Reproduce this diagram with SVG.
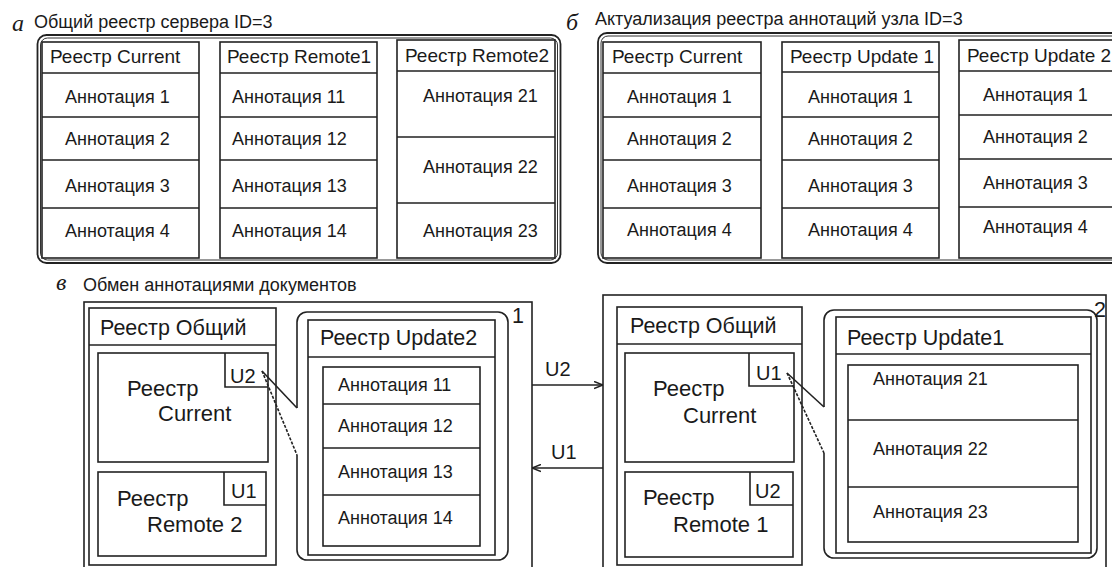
<svg xmlns="http://www.w3.org/2000/svg" width="1112" height="567" viewBox="0 0 1112 567">
<style>
.bx{fill:#fff;stroke:#222;stroke-width:1.6}
.ln{fill:none;stroke:#222;stroke-width:1.6}
.fr{fill:none;stroke:#222;stroke-width:1.8}
.fi{fill:none;stroke:#333;stroke-width:1}
.t{font-family:"Liberation Sans",Arial,sans-serif;fill:#1a1a1a}
.ti{font-size:18px}
.hd{font-size:19px}
.an{font-size:18px}
.bh{font-size:21.5px}
.in{font-size:22px}
.u{font-size:20px}
.lt{font-family:"Liberation Serif","Times New Roman",serif;font-style:italic;font-size:24px;fill:#1a1a1a}
</style>
<defs>
<marker id="arr" viewBox="0 0 10 10" refX="10" refY="5" markerWidth="9" markerHeight="9" markerUnits="userSpaceOnUse" orient="auto">
<path d="M0,1 L10,5 L0,9" fill="none" stroke="#222" stroke-width="1.6"/>
</marker>
</defs>
<rect width="1112" height="567" fill="#fff"/>

<!-- Panel a -->
<g id="panel-a">
<text class="lt" x="12" y="31">а</text>
<text class="t ti" x="34" y="28">Общий реестр сервера ID=3</text>
<rect class="fr" x="37.5" y="35" width="523" height="228" rx="9"/>
<rect class="fi" x="40.5" y="38" width="517" height="222" rx="7"/>
</g>
<g id="a-current">
<rect class="bx" x="42" y="42" width="157" height="216"/>
<path class="ln" d="M42,73H199M42,117H199M42,160H199M42,208H199"/>
<text class="t hd" x="50" y="63">Реестр Current</text>
<text class="t an" x="65" y="103">Аннотация 1</text>
<text class="t an" x="65" y="145">Аннотация 2</text>
<text class="t an" x="65" y="192">Аннотация 3</text>
<text class="t an" x="65" y="237">Аннотация 4</text>
</g>
<g id="a-remote1">
<rect class="bx" x="220" y="42" width="157" height="216"/>
<path class="ln" d="M220,73H377M220,117H377M220,160H377M220,208H377"/>
<text class="t hd" x="227" y="63">Реестр Remote1</text>
<text class="t an" x="232" y="103">Аннотация 11</text>
<text class="t an" x="232" y="145">Аннотация 12</text>
<text class="t an" x="232" y="192">Аннотация 13</text>
<text class="t an" x="232" y="237">Аннотация 14</text>
</g>
<g id="a-remote2">
<rect class="bx" x="397" y="40" width="158" height="218"/>
<path class="ln" d="M397,71H555M397,137H555M397,203H555"/>
<text class="t hd" x="405" y="62">Реестр Remote2</text>
<text class="t an" x="423" y="102">Аннотация 21</text>
<text class="t an" x="423" y="173">Аннотация 22</text>
<text class="t an" x="423" y="237">Аннотация 23</text>
</g>

<!-- Panel b -->
<g id="panel-b">
<text class="lt" x="566" y="30">б</text>
<text class="t ti" x="595" y="25">Актуализация реестра аннотаций узла ID=3</text>
<rect class="fr" x="598" y="33" width="540" height="230" rx="9"/>
<rect class="fi" x="601" y="36" width="534" height="224" rx="7"/>
</g>
<g id="b-current">
<rect class="bx" x="603" y="42" width="158" height="216"/>
<path class="ln" d="M603,73H761M603,117H761M603,160H761M603,208H761"/>
<text class="t hd" x="612" y="63">Реестр Current</text>
<text class="t an" x="627" y="103">Аннотация 1</text>
<text class="t an" x="627" y="145">Аннотация 2</text>
<text class="t an" x="627" y="192">Аннотация 3</text>
<text class="t an" x="627" y="236">Аннотация 4</text>
</g>
<g id="b-update1">
<rect class="bx" x="782" y="42" width="157" height="216"/>
<path class="ln" d="M782,72H939M782,117H939M782,160H939M782,208H939"/>
<text class="t hd" x="790" y="63">Реестр Update 1</text>
<text class="t an" x="808" y="103">Аннотация 1</text>
<text class="t an" x="808" y="145">Аннотация 2</text>
<text class="t an" x="808" y="192">Аннотация 3</text>
<text class="t an" x="808" y="236">Аннотация 4</text>
</g>
<g id="b-update2">
<rect class="bx" x="959" y="40" width="160" height="218"/>
<path class="ln" d="M959,71H1119M959,115H1119M959,159H1119M959,207H1119"/>
<text class="t hd" x="967" y="62">Реестр Update 2</text>
<text class="t an" x="983" y="101">Аннотация 1</text>
<text class="t an" x="983" y="143">Аннотация 2</text>
<text class="t an" x="983" y="189">Аннотация 3</text>
<text class="t an" x="983" y="233">Аннотация 4</text>
</g>

<!-- Panel v -->
<g id="panel-v">
<text class="lt" x="56" y="290">в</text>
<text class="t ti" x="83" y="291">Обмен аннотациями документов</text>
</g>

<!-- Node 1 -->
<g id="node1">
<rect class="bx" x="84" y="302" width="448" height="280"/>
<text class="t bh" x="512" y="323">1</text>
<rect class="bx" x="89" y="308" width="187" height="257"/>
<path class="ln" d="M89,345H276"/>
<text class="t bh" x="100" y="335">Реестр Общий</text>
<rect class="bx" x="98" y="353" width="170" height="109"/>
<path class="ln" d="M225,353V387H268"/>
<text class="t u" x="230" y="383">U2</text>
<text class="t in" x="127" y="396">Реестр</text>
<text class="t in" x="158" y="421">Current</text>
<rect class="bx" x="98" y="472" width="168" height="84"/>
<path class="ln" d="M224,472V505H266"/>
<text class="t u" x="231" y="498">U1</text>
<text class="t in" x="117" y="506">Реестр</text>
<text class="t in" x="147" y="532">Remote 2</text>
<path class="ln" d="M297,408V322A10,10 0 0 1 307,312H498A10,10 0 0 1 508,322V550A10,10 0 0 1 498,560H307A10,10 0 0 1 297,550V455"/>
<path class="ln" d="M297,408L262,371" stroke-width="1.3"/>
<path class="ln" d="M262,371L297,455" stroke-width="1.3" stroke-dasharray="3 1.5"/>
<rect class="bx" x="308" y="320" width="187" height="235"/>
<path class="ln" d="M308,357H495"/>
<text class="t bh" x="320" y="345">Реестр Update2</text>
<rect class="bx" x="323" y="367" width="157" height="179"/>
<path class="ln" d="M323,404H480M323,448H480M323,495H480"/>
<text class="t an" x="338" y="391">Аннотация 11</text>
<text class="t an" x="338" y="432">Аннотация 12</text>
<text class="t an" x="338" y="478">Аннотация 13</text>
<text class="t an" x="338" y="524">Аннотация 14</text>
</g>

<!-- Node 2 -->
<g id="node2">
<rect class="bx" x="603" y="295" width="503" height="290"/>
<text class="t bh" x="1094" y="317">2</text>
<rect class="bx" x="617" y="307" width="185" height="258"/>
<path class="ln" d="M617,344H802"/>
<text class="t bh" x="630" y="333">Реестр Общий</text>
<rect class="bx" x="625" y="353" width="169" height="109"/>
<path class="ln" d="M749,353V386H794"/>
<text class="t u" x="756" y="380">U1</text>
<text class="t in" x="653" y="396">Реестр</text>
<text class="t in" x="683" y="423">Current</text>
<rect class="bx" x="625" y="472" width="168" height="85"/>
<path class="ln" d="M750,472V505H793"/>
<text class="t u" x="755" y="498">U2</text>
<text class="t in" x="643" y="505">Реестр</text>
<text class="t in" x="673" y="532">Remote 1</text>
<path class="ln" d="M824,407V320A10,10 0 0 1 834,310H1087A10,10 0 0 1 1097,320V548A10,10 0 0 1 1087,558H834A10,10 0 0 1 824,548V453"/>
<path class="ln" d="M824,407L787,373" stroke-width="1.3"/>
<path class="ln" d="M787,373L824,453" stroke-width="1.3" stroke-dasharray="3 1.5"/>
<rect class="bx" x="836" y="317" width="255" height="236"/>
<path class="ln" d="M836,354H1091"/>
<text class="t bh" x="847" y="345">Реестр Update1</text>
<rect class="bx" x="848" y="365" width="230" height="177"/>
<path class="ln" d="M848,420H1078M848,487H1078"/>
<text class="t an" x="873" y="385">Аннотация 21</text>
<text class="t an" x="873" y="455">Аннотация 22</text>
<text class="t an" x="873" y="518">Аннотация 23</text>
</g>

<!-- Connectors -->
<g id="connectors">
<path class="ln" d="M532,385H603" marker-end="url(#arr)"/>
<path class="ln" d="M603,468H532" marker-end="url(#arr)"/>
<text class="t u" x="545" y="376">U2</text>
<text class="t u" x="551" y="459">U1</text>
</g>
</svg>
